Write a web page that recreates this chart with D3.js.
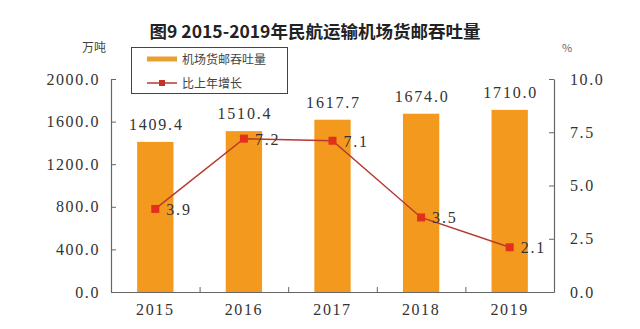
<!DOCTYPE html>
<html><head><meta charset="utf-8">
<script src="https://cdn.jsdelivr.net/npm/d3@7"></script>
<style>
body{margin:0;background:#fff;}
text{font-family:"Liberation Serif","Noto Sans CJK SC",serif;fill:#333;}
.cjk{font-family:"Noto Sans CJK SC",sans-serif;}
</style></head><body>
<svg id="c" width="640" height="329"></svg>
<script>
const years = ["2015","2016","2017","2018","2019"];
const volume = [1409.4,1510.4,1617.7,1674.0,1710.0];
const growth = [3.9,7.2,7.1,3.5,2.1];
const leftTicks = [0,400,800,1200,1600,2000];
const rightTicks = [0,2.5,5,7.5,10];
const title = "图9 2015-2019年民航运输机场货邮吞吐量";
const seriesNames = ["机场货邮吞吐量","比上年增长"];

const svg = d3.select("#c");
const m = {l:111, r:554, t:79, b:292};
const x = d3.scaleBand().domain(years).range([m.l, m.r]).paddingInner(0.59).paddingOuter(0.295);
const yL = d3.scaleLinear().domain([0,2000]).range([m.b, m.t]);
const yR = d3.scaleLinear().domain([0,10]).range([m.b, m.t]);
const axisCol = "#666";

// title
svg.append("text").attr("x",315).attr("y",38).attr("text-anchor","middle")
  .attr("class","cjk").style("font-size","17.5px").style("font-weight","bold").style("fill","#222").text(title);
svg.append("text").attr("class","cjk").attr("x",94).attr("y",52).attr("text-anchor","middle").style("font-size","12px").style("fill","#444").text("万吨");
svg.append("text").attr("class","cjk").attr("x",567).attr("y",52).attr("text-anchor","middle").style("font-size","11px").style("fill","#666").text("%");

// bars
svg.selectAll("rect.bar").data(volume).join("rect").attr("class","bar")
  .attr("x",(d,i)=>x(years[i])).attr("width",x.bandwidth())
  .attr("y",d=>yL(d)).attr("height",d=>yL(0)-yL(d)).attr("fill","#F39A1E");
svg.selectAll("text.vl").data(volume).join("text").attr("class","vl")
  .attr("x",(d,i)=>x(years[i])+x.bandwidth()/2+1).attr("y",d=>yL(d)-12)
  .attr("text-anchor","middle").style("font-size","16px").style("letter-spacing","1.8px")
  .text(d=>d.toFixed(1));

// axes
const gL = svg.append("g").attr("transform",`translate(${m.l},0)`)
  .call(d3.axisLeft(yL).tickValues(leftTicks).tickSize(-5).tickSizeOuter(0).tickPadding(11).tickFormat(d=>d.toFixed(1)));
const gR = svg.append("g").attr("transform",`translate(${m.r},0)`)
  .call(d3.axisRight(yR).tickValues(rightTicks).tickSize(-5).tickSizeOuter(0).tickPadding(16).tickFormat(d=>d.toFixed(1)));
const xb = d3.scaleLinear().domain([0,5]).range([m.l,m.r]);
const gB = svg.append("g").attr("transform",`translate(0,${m.b})`)
  .call(d3.axisBottom(xb).tickValues([1,2,3,4]).tickSize(-5).tickSizeOuter(0).tickFormat(""));
const gC = svg.append("g").attr("transform",`translate(0,${m.b})`)
  .call(d3.axisBottom(x).tickSize(0).tickPadding(12));
gC.select(".domain").remove();
[gL,gR,gB].forEach(g=>{
  g.select(".domain").attr("stroke",axisCol).attr("stroke-width",1.2);
  g.selectAll(".tick line").attr("stroke",axisCol);
});
svg.selectAll(".tick text").style("font-family","Liberation Serif").style("font-size","16px").style("fill","#333").style("letter-spacing","1.6px");

// line
const cx = (i)=>x(years[i])+x.bandwidth()/2;
const line = d3.line().x((d,i)=>cx(i)).y(d=>yR(d));
svg.append("path").datum(growth).attr("d",line).attr("fill","none").attr("stroke","#B53A31").attr("stroke-width",1.5);
svg.selectAll("rect.mk").data(growth).join("rect").attr("class","mk")
  .attr("x",(d,i)=>cx(i)-4).attr("y",d=>yR(d)-4).attr("width",8).attr("height",8).attr("fill","#E2301C");
svg.selectAll("text.gl").data(growth).join("text").attr("class","gl")
  .attr("x",(d,i)=>cx(i)+11).attr("y",d=>yR(d)+6)
  .style("font-size","16px").style("letter-spacing","1.8px").text(d=>d.toFixed(1));

// legend
const lg = svg.append("g");
lg.append("rect").attr("x",131.5).attr("y",47.5).attr("width",156).attr("height",46).attr("fill","#fff").attr("stroke","#444").attr("stroke-width",1);
lg.append("line").attr("x1",147).attr("x2",177).attr("y1",59).attr("y2",59).attr("stroke","#E8A030").attr("stroke-width",5);
lg.append("text").attr("class","cjk").attr("x",182).attr("y",63.5).style("font-size","12px").style("fill","#444").text(seriesNames[0]);
lg.append("line").attr("x1",147).attr("x2",177).attr("y1",83).attr("y2",83).attr("stroke","#B53A31").attr("stroke-width",1.5);
lg.append("rect").attr("x",159).attr("y",80).attr("width",6).attr("height",6).attr("fill","#C8302A");
lg.append("text").attr("class","cjk").attr("x",182).attr("y",87.5).style("font-size","12px").style("fill","#444").text(seriesNames[1]);
</script></body></html>
